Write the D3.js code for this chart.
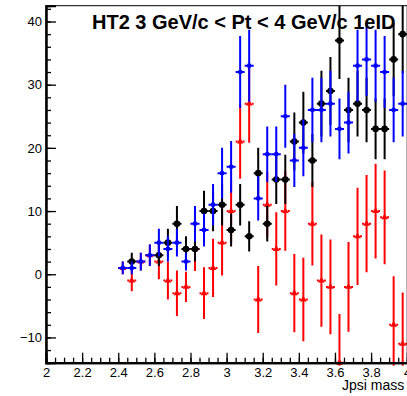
<!DOCTYPE html>
<html>
<head>
<meta charset="utf-8">
<script src="https://cdn.jsdelivr.net/npm/d3@7"></script>
<style>
  body { margin: 0; background: #fff; }
  svg { display: block; font-family: 'Liberation Sans', Arial, Helvetica, sans-serif; }
  .tick text { font-size: 13px; fill: #000; }
</style>
</head>
<body>
<script>
// bin centres of the jpsi mass histogram
const binCenters = [2.425, 2.475, 2.525, 2.575, 2.625, 2.675, 2.725, 2.775, 2.825, 2.875,
    2.925, 2.975, 3.025, 3.075, 3.125, 3.175, 3.225, 3.275, 3.325, 3.375,
    3.425, 3.475, 3.525, 3.575, 3.625, 3.675, 3.725, 3.775, 3.825, 3.875,
    3.925, 3.975]
const binHalf = 0.025

// black points (null = empty bin, not drawn)
const blackVals = [null, 2, null, null, 3, 5, 8, 4, 4, 10, 10, 11, 7, 11, 6, 16, 8, 15, 15, 21,
    24, 18, 27, 29, 37, 26, 27, 26, 23, 23, 34, 38]
const blackErr = [null, 1.4, null, null, 1.7, 2.2, 2.8, 2.0, 2.0, 3.2, 3.2, 3.3, 2.6, 3.3, 2.4, 4.0, 2.8, 3.9, 3.9, 4.6,
    4.9, 4.2, 5.2, 5.4, 6.1, 5.1, 5.2, 5.1, 4.8, 4.8, 5.8, 6.2]

// blue points
const blueVals = [1, 1, 2, 3, 5, 4, 5, 2, 8, 7, 11, 16, 17, 32, 33, 12, 19, 19, 25, 18,
    20, 26, 26, 27, 23, 24, 33, 34, 33, 32, 26, 27]
const blueErr = [1.0, 1.0, 1.4, 1.7, 2.2, 2.0, 2.2, 1.4, 2.8, 2.6, 3.3, 4.0, 4.1, 5.7, 5.7, 3.5, 4.4, 4.4, 5.0, 4.2,
    4.5, 5.1, 5.1, 5.2, 4.8, 4.9, 5.7, 5.8, 5.7, 5.7, 5.1, 5.2]

// red points
const redVals = [1, -1, 2, 3, 2, -1, -3, -2, 4, -3, 1, 5, 10, 21, 27, -4, 11, 4, 10, -3,
    -4, 8, -1, -2, -14, -2, 6, 8, 10, 9, -8, -11]
const redErr = [1.0, 1.7, 1.4, 1.7, 2.8, 3.0, 3.6, 2.4, 3.5, 4.1, 4.6, 5.2, 4.9, 5.9, 6.2, 5.3, 5.2, 5.8, 6.3, 6.2,
    6.6, 6.6, 7.3, 7.5, 7.7, 7.1, 7.7, 7.7, 7.5, 7.4, 7.7, 8.1]

// axis ticks
const xTicks = [2, 2.2, 2.4, 2.6, 2.8, 3, 3.2, 3.4, 3.6, 3.8, 4]
const yTicks = [-10, 0, 10, 20, 30, 40]

const title = 'HT2 3 GeV/c < Pt < 4 GeV/c 1eID'
const xTitle = 'Jpsi mass'

// size of svg and frame
const w = 407
const h = 396
const pLeft = 46
const pRight = 407.2
const pTop = 5.7
const pBottom = 362.7

const xScale = d3.scaleLinear().domain([2, 4]).range([pLeft, pRight])
const yScale = d3.scaleLinear().domain([-14, 42.5]).range([pBottom, pTop])

const svg = d3.select('body')
    .append('svg')
    .attr('width', w)
    .attr('height', h)

svg.append('rect')
    .attr('width', w)
    .attr('height', h)
    .attr('fill', '#fff')

// clip marks to the frame
svg.append('clipPath')
    .attr('id', 'frame-clip')
    .append('rect')
    .attr('x', pLeft)
    .attr('y', pTop)
    .attr('width', pRight - pLeft)
    .attr('height', pBottom - pTop + 3)

const plot = svg.append('g').attr('clip-path', 'url(#frame-clip)')

// build point table for one series
function points(vals, errs) {
    return binCenters.map((c, i) => ({ x: c, v: vals[i], e: errs[i] }))
        .filter(d => d.v !== null)
}

function drawSeries(data, color, marker, dashed) {
    const g = plot.append('g')

    // vertical error bars
    g.selectAll('line.ey')
        .data(data)
        .enter()
        .append('line')
        .attr('class', 'ey')
        .attr('x1', d => xScale(d.x))
        .attr('x2', d => xScale(d.x))
        .attr('y1', d => yScale(d.v - d.e))
        .attr('y2', d => yScale(d.v + d.e))
        .attr('stroke', color)
        .attr('stroke-width', 2)

    // horizontal bin width bars
    g.selectAll('line.ex')
        .data(data)
        .enter()
        .append('line')
        .attr('class', 'ex')
        .attr('x1', d => xScale(d.x - binHalf))
        .attr('x2', d => xScale(d.x + binHalf))
        .attr('y1', d => yScale(d.v))
        .attr('y2', d => yScale(d.v))
        .attr('stroke', color)
        .attr('stroke-width', 2)
        .attr('stroke-dasharray', dashed ? '2,1.5' : null)

    // markers
    g.selectAll('path.m')
        .data(data)
        .enter()
        .append('path')
        .attr('class', 'm')
        .attr('d', marker)
        .attr('transform', d => `translate(${xScale(d.x)},${yScale(d.v)})`)
        .attr('fill', color)
}

drawSeries(points(redVals, redErr), '#ff0000', d3.symbol(d3.symbolTriangle, 20)(), true)
drawSeries(points(blackVals, blackErr), '#000000', d3.symbol(d3.symbolCircle, 34)(), false)
drawSeries(points(blueVals, blueErr), '#0000ff', d3.symbol(d3.symbolCircle, 18)(), false)

// frame
svg.append('rect')
    .attr('x', pLeft)
    .attr('y', pTop)
    .attr('width', pRight - pLeft)
    .attr('height', pBottom - pTop)
    .attr('fill', 'none')
    .attr('stroke', '#000')
    .attr('stroke-width', 1)

// x axis: minor then major ticks
const xAxisG = svg.append('g')
    .attr('transform', `translate(0,${pBottom})`)

xAxisG.append('g')
    .call(d3.axisBottom(xScale).tickValues(d3.range(2, 4.001, 0.05)).tickSize(-5).tickFormat(''))
xAxisG.append('g')
    .call(d3.axisBottom(xScale).tickValues(xTicks).tickSize(-10).tickPadding(5).tickFormat(d3.format('')))

// y axis: minor then major ticks
const yAxisG = svg.append('g')
    .attr('transform', `translate(${pLeft},0)`)

yAxisG.append('g')
    .call(d3.axisLeft(yScale).tickValues(d3.range(-14, 42.1, 2)).tickSize(-5).tickFormat(''))
yAxisG.append('g')
    .call(d3.axisLeft(yScale).tickValues(yTicks).tickSize(-10).tickPadding(4))

svg.selectAll('.domain').attr('stroke-width', 2)
svg.selectAll('.tick line').attr('stroke-width', 1.3)

// title
svg.append('text')
    .attr('x', 92)
    .attr('y', 28.5)
    .attr('font-size', 20)
    .attr('font-weight', 'bold')
    .text(title)

// x axis label
svg.append('text')
    .attr('x', 342)
    .attr('y', 390)
    .attr('font-size', 14)
    .text(xTitle)
</script>
</body>
</html>
